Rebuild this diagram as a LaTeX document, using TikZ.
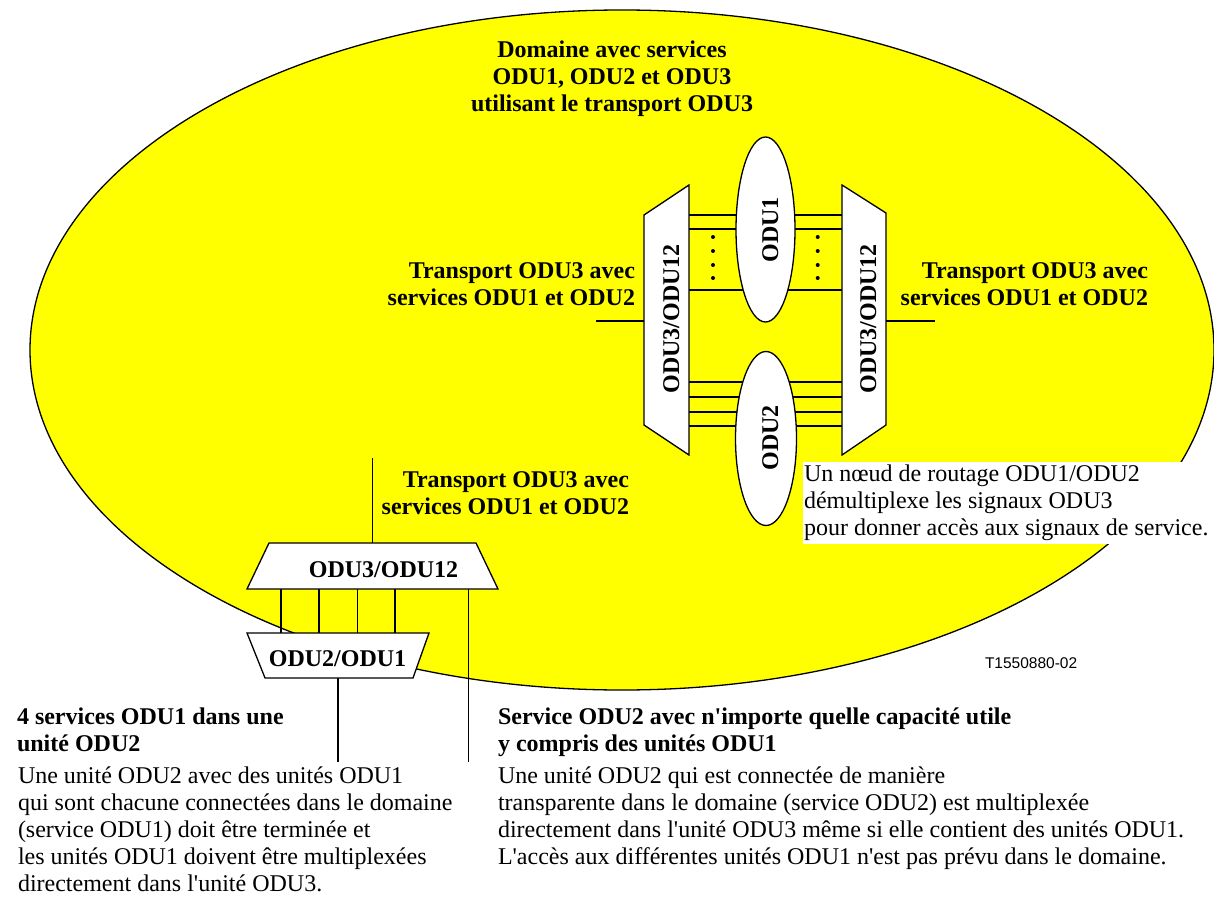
\documentclass[tikz,border=0pt]{standalone}
\usepackage{fontspec}
\newfontfamily\serif{Liberation Serif}
\newfontfamily\figfont{Liberation Sans}
\usetikzlibrary{shapes.geometric}
\definecolor{domainyellow}{RGB}{255,255,0}

\begin{document}
\begin{tikzpicture}[x=1pt,y=-1pt,
  line width=1.3pt,
  every node/.style={inner sep=0pt, outer sep=0pt},
  txt/.style={font=\serif\fontsize{24}{27}\selectfont},
  bold/.style={font=\serif\fontsize{24}{27}\selectfont\bfseries},
  muxbox/.style={draw, fill=white, line join=miter},
  odububble/.style={draw, fill=white, ellipse, rotate=90, minimum height=#1},
  link/.style={draw, line cap=butt},
  dotmark/.style={fill, circle, minimum size=4pt}
]
\useasboundingbox (0,0) rectangle (1214,904);

% the domain
\draw[fill=domainyellow] (622,350) ellipse [x radius=592, y radius=340];

% links between the two ODU3/ODU12 multiplexers, through the routing bubbles
\foreach \yy in {215,229,290,382,397,412,426}
  \draw[link] (689,\yy) -- (842,\yy);
\foreach \yy in {237,251,265,278} {
  \node[dotmark] at (713,\yy) {};
  \node[dotmark] at (817.7,\yy) {};
}

% routing bubbles
\node[odububble=59pt, minimum width=185pt] (odu1) at (765.5,229.5) {};
\node[odububble=61pt, minimum width=174pt] (odu2) at (766,438.5) {};
\node[bold, rotate=90, anchor=base] (odu1txt) at (778,230) {ODU1};
\node[bold, rotate=90, anchor=base] (odu2txt) at (778,438) {ODU2};

% central ODU3/ODU12 multiplexers
\draw[muxbox] (644,215) coordinate (lmA) -- (689,185) -- (689,455) -- (644,425) -- cycle;
\draw[muxbox] (842,185) -- (886,213) coordinate (rmA) -- (886,425) -- (842,455) -- cycle;
\node[bold, rotate=90, anchor=base] (lmtxt) at (679,319) {ODU3/ODU12};
\node[bold, rotate=90, anchor=base] (rmtxt) at (876,319) {ODU3/ODU12};
\coordinate (lin) at (596,321);
\coordinate (rout) at (935,321);
\draw[link] (lin) -- (lmA |- lin);
\draw[link] (rmA |- rout) -- (rout);

% edge multiplexer and ODU2/ODU1 demultiplexer
\coordinate (bin) at (372.7,458);
\coordinate (svc1) at (338,762);
\coordinate (svc2) at (468.3,762);
\draw[link] (bin) -- (372.7,543);
\foreach \xx in {281,319,357.3,395}
  \draw[link] (\xx,589) -- (\xx,633);
\draw[link] (468.3,589) -- (svc2);
\draw[link] (338,678) -- (svc1);
\draw[muxbox] (269,543) -- (476,543) -- (498,589) -- (247,589) -- cycle;
\draw[muxbox] (247,633) -- (429,633) -- (413,678) -- (265,678) -- cycle;
\node[bold, anchor=base] (bmtxt) at (383.5,577) {ODU3/ODU12};
\node[bold, anchor=base] (dmtxt) at (337.5,666.7) {ODU2/ODU1};

% labels (the base anchor of a multi-line node sits on its last line)
\node[bold, align=center, anchor=base] (title) at (612,112)
  {Domaine avec services\\ODU1, ODU2 et ODU3\\utilisant le transport ODU3};
\node[bold, align=right, anchor=base east] (lbl1) at (635,305)
  {Transport ODU3 avec\\services ODU1 et ODU2};
\node[bold, align=right, anchor=base east] (lbl2) at (1148,305)
  {Transport ODU3 avec\\services ODU1 et ODU2};
\node[bold, align=right, anchor=base east] (lbl3) at (629,514)
  {Transport ODU3 avec\\services ODU1 et ODU2};

\node[txt, align=left, fill=white, anchor=north west, inner xsep=1pt, inner ysep=3pt,
      minimum width=404pt] (note) at (803,462)
  {Un n\oe ud de routage ODU1/ODU2\\d\'emultiplexe les signaux ODU3\\pour donner acc\`es aux signaux de service.};

\node[font=\figfont\fontsize{15.5}{18}\selectfont, anchor=base west] (ref) at (985,668) {T1550880-02};

\node[bold, align=left, anchor=base west] (h1) at (17,751)
  {4 services ODU1 dans une\\unit\'e ODU2};
\node[txt, align=left, anchor=base west] (p1) at (18,891)
  {Une unit\'e ODU2 avec des unit\'es ODU1\\qui sont chacune connect\'ees dans le domaine\\(service ODU1) doit \^etre termin\'ee et\\les unit\'es ODU1 doivent \^etre multiplex\'ees\\directement dans l'unit\'e ODU3.};
\node[bold, align=left, anchor=base west] (h2) at (498,751)
  {Service ODU2 avec n'importe quelle capacit\'e utile\\y compris des unit\'es ODU1};
\node[txt, align=left, anchor=base west] (p2) at (498,864)
  {Une unit\'e ODU2 qui est connect\'ee de mani\`ere\\transparente dans le domaine (service ODU2) est multiplex\'ee\\directement dans l'unit\'e ODU3 m\^eme si elle contient des unit\'es ODU1.\\L'acc\`es aux diff\'erentes unit\'es ODU1 n'est pas pr\'evu dans le domaine.};
\end{tikzpicture}
\end{document}
